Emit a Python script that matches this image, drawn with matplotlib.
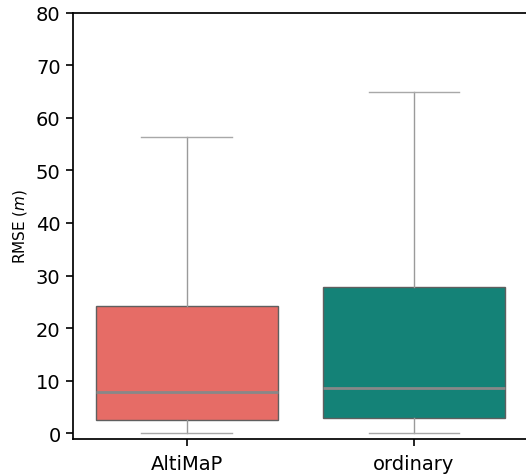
import matplotlib
matplotlib.use("Agg")
import matplotlib.pyplot as plt

# RMSE summary per method (metres)
methods = ["AltiMaP", "ordinary"]
whisker_low = [0.05, 0.05]
q1 = [2.6, 2.85]
median = [7.8, 8.65]
q3 = [24.2, 27.75]
whisker_high = [56.3, 64.9]
colors = ["#e66c66", "#148277"]

stats = []
for i, name in enumerate(methods):
    stats.append({"label": name, "whislo": whisker_low[i], "q1": q1[i],
                  "med": median[i], "q3": q3[i], "whishi": whisker_high[i],
                  "fliers": []})

fig = plt.figure(figsize=(5.26, 4.77), dpi=100)
ax = fig.add_axes([0.139, 0.0776, 0.864, 0.894])

bp = ax.bxp(stats, positions=range(len(methods)), widths=0.8,
            patch_artist=True, showfliers=False,
            boxprops=dict(edgecolor="#5f5f5f", linewidth=1.0),
            whiskerprops=dict(color="#9a9a9a", linewidth=1.0),
            capprops=dict(color="#a8a8a8", linewidth=1.0),
            medianprops=dict(color="#888888", linewidth=2.0))
for patch, c in zip(bp["boxes"], colors):
    patch.set_facecolor(c)

ax.set_xlim(-0.5, 1.5)
ax.set_ylim(-1.08, 80)
ax.set_yticks(range(0, 81, 10))
ax.set_xticks(range(len(methods)))
ax.set_xticklabels(methods)
ax.tick_params(labelsize=14, width=1.2, length=5)
ax.tick_params(axis="x", pad=6)
ax.tick_params(axis="y", pad=4)
ax.set_ylabel("RMSE ($m$)", fontsize=11, labelpad=5)

ax.spines["right"].set_visible(False)
for side in ["left", "top", "bottom"]:
    ax.spines[side].set_linewidth(1.25)

fig.savefig("out.png", dpi=100)
